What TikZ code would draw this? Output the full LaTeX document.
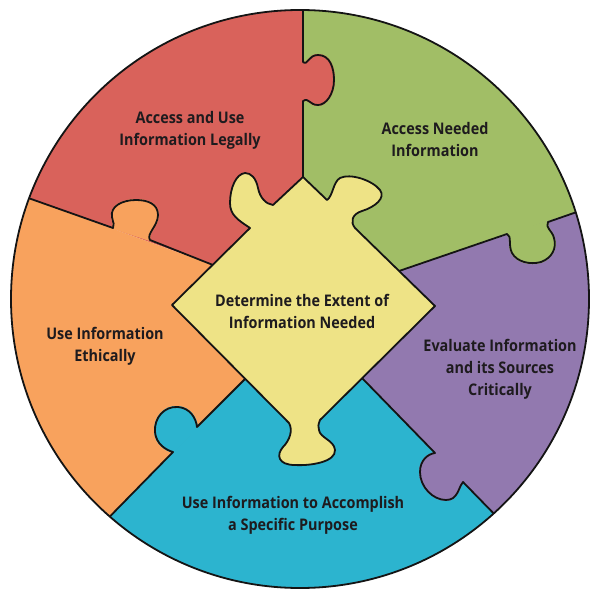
\documentclass[tikz,border=0pt]{standalone}
\usepackage{fontspec}
\setmainfont[FakeStretch=0.9]{Open Sans}
\definecolor{cred}{HTML}{D9625B}
\definecolor{cgreen}{HTML}{A1BE66}
\definecolor{cpurple}{HTML}{9279AF}
\definecolor{cblue}{HTML}{2CB4CF}
\definecolor{corange}{HTML}{F8A25D}
\definecolor{cyellow}{HTML}{EEE386}
\definecolor{txt}{HTML}{1E1B1E}
\begin{document}
\begin{tikzpicture}[x=1pt,y=-1pt,
  edge/.style={draw=black!92, line width=1.8pt, line join=round, line cap=round},
  knobfill/.style={fill=#1, draw=#1, line width=2pt},
  lbl/.style={align=center, font=\fontsize{16}{22}\selectfont\bfseries, text=txt, inner sep=0pt}]
\useasboundingbox (0,0) rectangle (589,591);
% diamond vertices and ray starts
\coordinate (T) at (303,177);
\coordinate (R) at (435,306);
\coordinate (B) at (303,437);
\coordinate (L) at (172,305);
\coordinate (pGP) at (399,271);
\coordinate (pPB) at (362,378);
\coordinate (pBO) at (245,379);
\coordinate (pOR) at (213,265);
\coordinate (eRG) at (303,-20);
\coordinate (eGP) at (620,197);
\coordinate (ePB) at (540,561);
\coordinate (eBO) at (80,547);
\coordinate (eOR) at (0,188);
\begin{scope}
\clip (300,299) circle (289pt);
% sectors
\fill[cred] (T) -- (eRG) -- (-20,-20) -- (-20,180) -- (eOR) -- (pOR) -- cycle;
\fill[cgreen] (T) -- (eRG) -- (620,-20) -- (eGP) -- (pGP) -- cycle;
\fill[cpurple] (pGP) -- (eGP) -- (620,620) -- (ePB) -- (pPB) -- cycle;
\fill[cblue] (pPB) -- (ePB) -- (560,620) -- (60,620) -- (eBO) -- (pBO) -- cycle;
\fill[corange] (pBO) -- (eBO) -- (-20,620) -- (-20,180) -- (eOR) -- (pOR) -- cycle;
% knobs
\path[knobfill=cred] (303,101) .. controls (309,97) and (309,105) .. (318,105) .. controls (326,105) and (334,94) .. (334,80) .. controls (334,68) and (330,55) .. (318,55) .. controls (308,55) and (308,66) .. (303,62) -- cycle;
\path[knobfill=cgreen] (507,234) .. controls (512,236) and (508,245) .. (512,253) .. controls (517,262) and (530,265) .. (541,262) .. controls (552,258) and (557,248) .. (554,238) .. controls (552,230) and (545,228) .. (548,222) -- cycle;
\path[knobfill=cpurple] (435,453) .. controls (428,454) and (420,460) .. (420,472) .. controls (420,487) and (433,500) .. (446,500) .. controls (458,500) and (458,488) .. (463,482) -- cycle;
\path[knobfill=cblue] (197,427) .. controls (196,418) and (190,408) .. (178,407) .. controls (164,406) and (154,418) .. (155,432) .. controls (156,444) and (166,450) .. (173,452) -- cycle;
\path[knobfill=corange] (150,240) .. controls (146,234) and (158,226) .. (158,215) .. controls (158,204) and (148,200) .. (136,200) .. controls (121,200) and (110,207) .. (112,217) .. controls (113,223) and (115,225) .. (113,228) -- cycle;
% boundaries
\draw[edge] (T) -- (303,101) .. controls (309,97) and (309,105) .. (318,105) .. controls (326,105) and (334,94) .. (334,80) .. controls (334,68) and (330,55) .. (318,55) .. controls (308,55) and (308,66) .. (303,62) -- (eRG);
\draw[edge] (pGP) -- (507,234) .. controls (512,236) and (508,245) .. (512,253) .. controls (517,262) and (530,265) .. (541,262) .. controls (552,258) and (557,248) .. (554,238) .. controls (552,230) and (545,228) .. (548,222) -- (eGP);
\draw[edge] (pPB) -- (435,453) .. controls (428,454) and (420,460) .. (420,472) .. controls (420,487) and (433,500) .. (446,500) .. controls (458,500) and (458,488) .. (463,482) -- (ePB);
\draw[edge] (pBO) -- (197,427) .. controls (196,418) and (190,408) .. (178,407) .. controls (164,406) and (154,418) .. (155,432) .. controls (156,444) and (166,450) .. (173,452) -- (eBO);
\draw[edge] (pOR) -- (150,240) .. controls (146,234) and (158,226) .. (158,215) .. controls (158,204) and (148,200) .. (136,200) .. controls (121,200) and (110,207) .. (112,217) .. controls (113,223) and (115,225) .. (113,228) -- (eOR);
\end{scope}
% central piece
\draw[edge, fill=cyellow] (T) -- (327,200)
  .. controls (333,196) and (333,182) .. (340,178)
  .. controls (350,173) and (372,180) .. (380,190)
  .. controls (386,198) and (375,207) .. (362,211)
  .. controls (352,214) and (350,222) .. (355,228)
  -- (R) -- (320,420)
  .. controls (318,425) and (318,427) .. (319,430)
  .. controls (320,438) and (334,440) .. (335,450)
  .. controls (336,462) and (310,466) .. (295,465)
  .. controls (278,465) and (276,455) .. (283,447)
  .. controls (290,440) and (293,430) .. (289,423)
  -- (L) -- (250,228)
  .. controls (238,220) and (230,215) .. (230,203)
  .. controls (230,188) and (236,174) .. (245,173)
  .. controls (251,173) and (256,178) .. (258,188)
  .. controls (260,198) and (266,204) .. (273,205)
  -- cycle;
% outer rim
\draw[edge] (300,299) circle (289pt);
% labels
\node[lbl] (tRed) at (190,130) {Access and Use\\Information Legally};
\node[lbl] (tGreen) at (435,139) {Access Needed\\Information};
\node[lbl] (tOrange) at (105,346) {Use Information\\Ethically};
\node[lbl] (tYellow) at (302,311) {Determine the Extent of\\Information Needed};
\node[lbl] (tPurple) at (500,369) {Evaluate Information\\and its Sources\\Critically};
\node[lbl] (tBlue) at (293,515) {Use Information to Accomplish\\a Specific Purpose};
\end{tikzpicture}
\end{document}
